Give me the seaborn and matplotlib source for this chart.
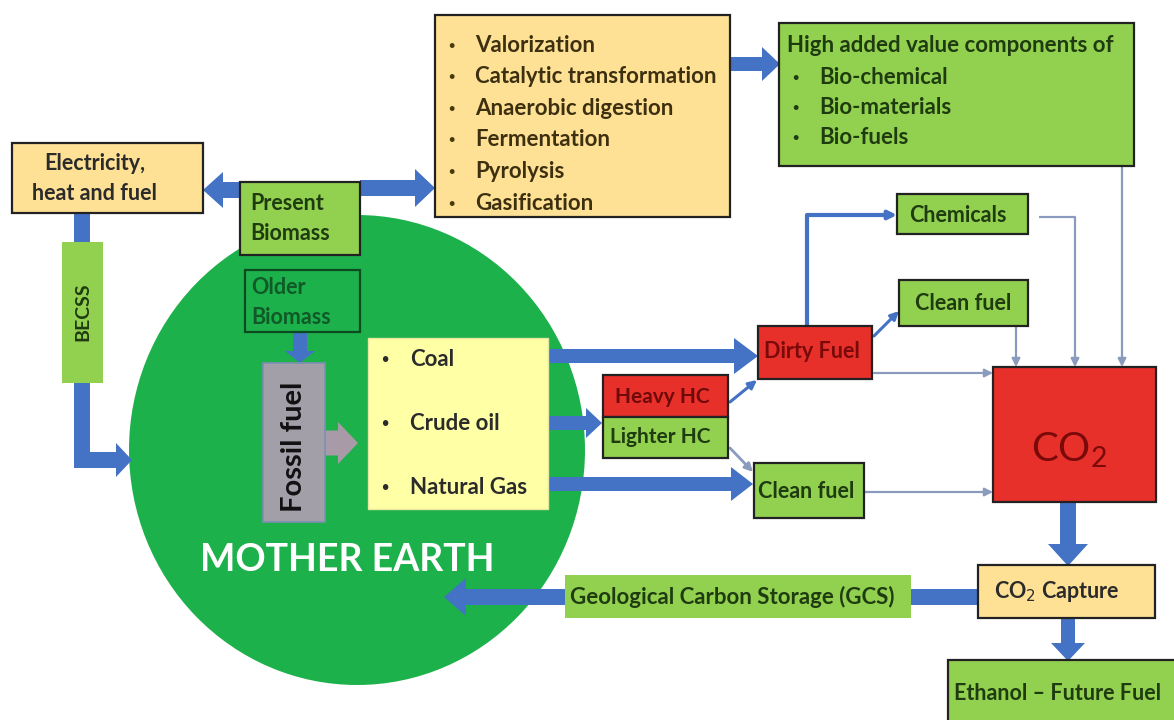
import matplotlib
matplotlib.use("Agg")
import matplotlib.pyplot as plt
from matplotlib.patches import Rectangle, Ellipse, FancyArrow
import seaborn as sns

# --- Diagram text ---
process_steps = ["Valorization", "Catalytic transformation", "Anaerobic digestion",
                 "Fermentation", "Pyrolysis", "Gasification"]
bio_header = "High added value components of"
bio_products = ["Bio-chemical", "Bio-materials", "Bio-fuels"]
fossil_types = ["Coal", "Crude oil", "Natural Gas"]
hc_fractions = ["Heavy HC", "Lighter HC"]
fuel_outputs = ["Dirty Fuel", "Clean fuel", "Clean fuel", "Chemicals"]
capture_labels = ["CO$_2$ Capture", "Geological Carbon Storage (GCS)", "Ethanol \u2013 Future Fuel"]

sns.set_theme(style="white")
plt.rcParams["font.family"] = ["Lato", "DejaVu Sans"]

ORANGE = "#FFE196"
GREEN = "#92D050"
RED = "#E8302A"
BLUE = "#4472C4"
EARTH = "#1DB14B"
THIN = "#8A9BBE"
DARKGREEN = "#1f3b10"

fig, ax = plt.subplots(figsize=(11.74, 7.2), dpi=100)
fig.subplots_adjust(0, 0, 1, 1)
ax.set_xlim(0, 1174)
ax.set_ylim(720, 0)
ax.axis("off")


def box(x0, y0, x1, y1, fc, ec="#222222", lw=1.6, z=3):
    ax.add_patch(Rectangle((x0, y0), x1 - x0, y1 - y0, facecolor=fc,
                           edgecolor=ec, linewidth=lw, zorder=z))


def block(x0, y0, x1, y1, w, hw, hl, color=BLUE, z=2):
    ax.add_patch(FancyArrow(x0, y0, x1 - x0, y1 - y0, width=w, head_width=hw,
                            head_length=hl, length_includes_head=True,
                            color=color, linewidth=0, zorder=z))


def thin(points, color=THIN, lw=1.6):
    xs = [p[0] for p in points]
    ys = [p[1] for p in points]
    ax.plot(xs[:-1], ys[:-1], color=color, lw=lw, zorder=2, solid_capstyle="butt")
    ax.annotate("", xy=points[-1], xytext=points[-2],
                arrowprops=dict(arrowstyle="-|>", color=color, lw=lw,
                                mutation_scale=12, shrinkA=0, shrinkB=0), zorder=2)


def label(x, y, s, size=16, color="#2b2b2b", ha="center", weight="bold", **kw):
    ax.text(x, y, s, fontsize=size, color=color, ha=ha, va="center",
            fontweight=weight, zorder=6, **kw)


# --- Mother Earth ---
ax.add_patch(Ellipse((357, 450), 456, 470, facecolor=EARTH, edgecolor="none", zorder=1))
label(347, 560, "MOTHER EARTH", size=27, color="white")

# --- Left side: biomass, electricity, BECSS ---
box(12, 143, 203, 213, ORANGE)
label(95, 163, "Electricity,", size=15.5)
label(95, 193, "heat and fuel", size=15.5)

box(240, 182, 360, 255, GREEN)
label(250, 203, "Present", size=15.5, color=DARKGREEN, ha="left")
label(250, 233, "Biomass", size=15.5, color=DARKGREEN, ha="left")

box(245, 270, 360, 332, EARTH, ec="#0c4a20")
label(251, 288, "Older", size=15.5, color="#0f5a27", ha="left")
label(251, 317, "Biomass", size=15.5, color="#0f5a27", ha="left")

block(240, 190, 203, 190, 16, 36, 20)
block(360, 188, 435, 188, 16, 38, 20)

ax.add_patch(Rectangle((74, 213), 16, 30, color=BLUE, lw=0, zorder=2))
box(62, 242, 103, 383, GREEN, ec="none", lw=0)
label(83, 312, "BECSS", size=14, color=DARKGREEN, rotation=90)
ax.add_patch(Rectangle((74, 383), 16, 85, color=BLUE, lw=0, zorder=2))
block(74, 460, 132, 460, 16, 34, 16)

# --- Fossil fuel ---
block(300, 332, 300, 363, 14, 30, 12)
box(263, 363, 325, 522, "#A39FA8", ec="#7d8fb3", lw=1.2)
label(294, 447, "Fossil fuel", size=21, color="#111111", rotation=90)
block(325, 443, 358, 443, 25, 42, 20, color="#A99AA8")

box(368, 338, 548, 509, "#FFFFA6", ec="#e8e8a0", lw=1)
for yy, name in zip([359, 423, 487], fossil_types):
    label(381, yy, "\u2022", size=9, ha="left")
    label(410, yy, name, size=16, ha="left")

block(497, 356, 758, 356, 14, 36, 24)
block(537, 423, 602, 423, 14, 30, 16)
block(545, 484, 753, 484, 14, 34, 22)

# --- Heavy / Lighter HC ---
box(603, 375, 728, 417, RED)
label(662, 397, hc_fractions[0], size=15, color="#6e0a0a")
box(603, 417, 728, 458, GREEN)
label(660, 437, hc_fractions[1], size=15, color=DARKGREEN)

# --- Fuels ---
box(758, 326, 872, 379, RED)
label(812, 352, fuel_outputs[0], size=15.5, color="#7a0a0a")
box(754, 463, 864, 518, GREEN)
label(806, 491, fuel_outputs[1], size=15.5, color=DARKGREEN)
box(899, 280, 1028, 326, GREEN)
label(963, 304, fuel_outputs[2], size=15.5, color=DARKGREEN)
box(897, 194, 1028, 234, GREEN)
label(958, 216, fuel_outputs[3], size=15.5, color=DARKGREEN)

thin([(807, 326), (807, 215), (897, 215)], color=BLUE, lw=3)
thin([(874, 336), (899, 311)], color=BLUE, lw=2.2)
thin([(730, 402), (757, 380)], color=BLUE, lw=2.2)
thin([(730, 448), (753, 472)], color=THIN, lw=2)
thin([(874, 373), (993, 373)])
thin([(864, 492), (993, 492)])
thin([(1039, 217), (1075, 217), (1075, 367)])
thin([(1016, 326), (1016, 367)])
thin([(1122, 166), (1122, 367)])

# --- CO2 ---
box(993, 367, 1156, 502, RED)
ax.text(1069, 450, r"$\mathregular{CO_2}$", fontsize=29, color="#7a0a0a",
        ha="center", va="center", zorder=6)

block(1068, 502, 1068, 566, 16, 40, 22)
box(978, 565, 1155, 618, ORANGE)
label(1057, 592, capture_labels[0], size=15.5)

ax.add_patch(Rectangle((911, 589), 67, 16, color=BLUE, lw=0, zorder=2))
box(565, 575, 911, 618, GREEN, ec="none", lw=0)
label(732, 597, capture_labels[1], size=16, color=DARKGREEN)
block(566, 597, 444, 597, 16, 38, 22)

block(1068, 618, 1068, 661, 14, 34, 18)
box(948, 660, 1180, 725, GREEN)
label(1058, 693, capture_labels[2], size=15.5, color=DARKGREEN)

# --- Top boxes ---
box(435, 15, 730, 217, ORANGE)
for i, step in enumerate(process_steps):
    yy = 45 + i * 31.6
    label(448, yy, "\u2022", size=8, ha="left", color="#4a3a10")
    label(475, yy, step, size=16, ha="left", color="#3d3010")

block(730, 64, 780, 64, 14, 34, 18)

box(779, 23, 1134, 166, GREEN)
label(787, 45, bio_header, size=16, ha="left", color=DARKGREEN)
for i, prod in enumerate(bio_products):
    yy = 77 + i * 30.5
    label(792, yy, "\u2022", size=8, ha="left", color=DARKGREEN)
    label(819, yy, prod, size=16, ha="left", color=DARKGREEN)

plt.savefig("out.png", dpi=100)
